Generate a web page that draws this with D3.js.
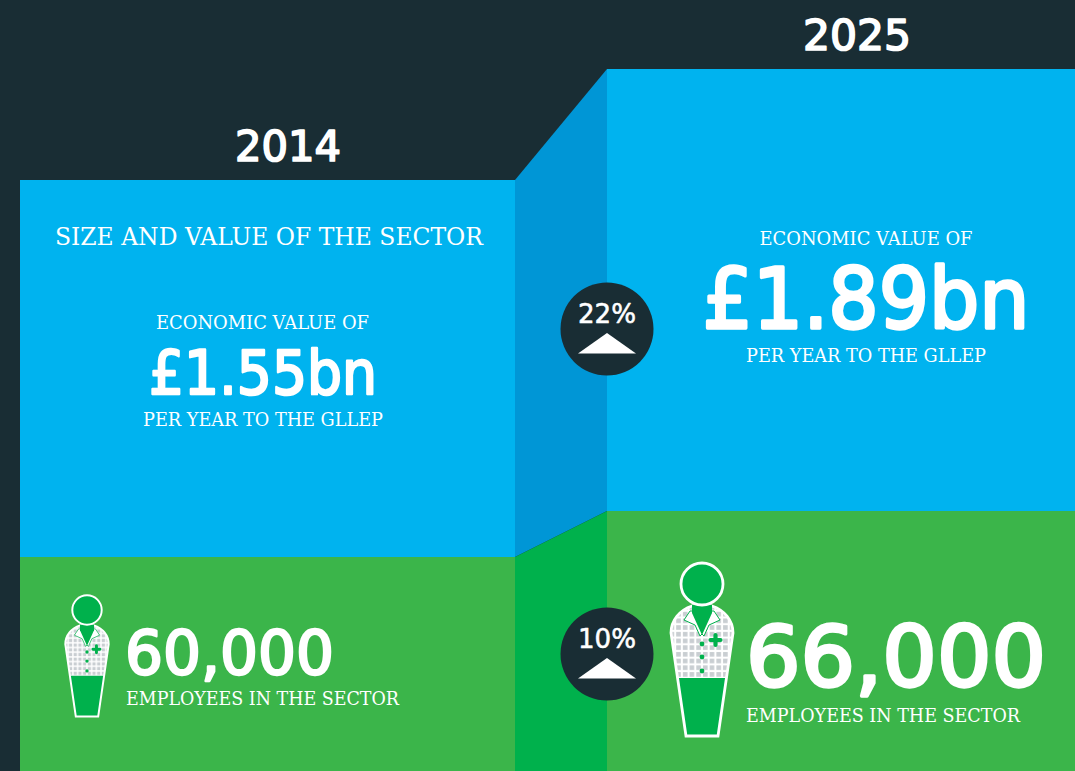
<!DOCTYPE html>
<html>
<head>
<meta charset="utf-8">
<script src="https://cdn.jsdelivr.net/npm/d3@7"></script>
<style>
  html, body { margin: 0; padding: 0; background: #192d34; overflow: hidden; }
  svg { display: block; }
  .slab { font-family: "DejaVu Serif", serif; fill: #fff; }
  .sans { font-family: "DejaVu Sans", sans-serif; fill: #fff; stroke: #fff; stroke-width: 0.04em; stroke-linejoin: round; }
</style>
</head>
<body>
<div id="wrapper"></div>
<script>
const years = ["2014", "2025"]
const economicValue = [1.55, 1.89]
const economicLabels = ["£1.55bn", "£1.89bn"]
const employees = [60000, 66000]
const employeeLabels = ["60,000", "66,000"]
const changes = ["22%", "10%"]
const sectorTitle = "SIZE AND VALUE OF THE SECTOR"
const valueHead = "ECONOMIC VALUE OF"
const valueFoot = "PER YEAR TO THE GLLEP"
const employeeFoot = "EMPLOYEES IN THE SECTOR"

function drawChart() {
  const dimensions = { width: 1075, height: 771 }

  const colors = {
    dark: "#192d34",
    blue: "#00b3ef",
    blueSide: "#0096d6",
    green: "#3bb54a",
    greenSide: "#00b14c",
    check: "#c9ced2",
  }

  const wrapper = d3.select("#wrapper")
    .append("svg")
      .attr("width", dimensions.width)
      .attr("height", dimensions.height)

  // scales: left edge of each column, and how high each value sits
  const xLeft = d3.scaleOrdinal().domain(years).range([20, 607])
  const xRight = d3.scaleOrdinal().domain(years).range([515, 1075])
  const yValue = d3.scaleLinear().domain(economicValue).range([180, 69])
  const yEmployees = d3.scaleLinear().domain(employees).range([557, 511])
  const iconScale = d3.scaleLinear().domain(employees).range([0.7, 1])

  const rows = years.map((year, i) => ({
    year,
    value: economicValue[i],
    valueLabel: economicLabels[i],
    staff: employees[i],
    staffLabel: employeeLabels[i],
  }))

  // column panels
  wrapper.selectAll(".blue")
      .data(rows)
    .join("rect")
      .attr("class", "blue")
      .attr("x", d => xLeft(d.year))
      .attr("y", d => yValue(d.value))
      .attr("width", d => xRight(d.year) - xLeft(d.year))
      .attr("height", d => yEmployees(d.staff) - yValue(d.value))
      .attr("fill", colors.blue)

  wrapper.selectAll(".green")
      .data(rows)
    .join("rect")
      .attr("class", "green")
      .attr("x", d => xLeft(d.year))
      .attr("y", d => yEmployees(d.staff))
      .attr("width", d => xRight(d.year) - xLeft(d.year))
      .attr("height", d => dimensions.height - yEmployees(d.staff))
      .attr("fill", colors.green)

  // the slanted bit between the two columns
  const [a, b] = rows
  const sideBlue = [
    [xRight(a.year), yValue(a.value)],
    [xLeft(b.year), yValue(b.value)],
    [xLeft(b.year), yEmployees(b.staff)],
    [xRight(a.year), yEmployees(a.staff)],
  ]
  const sideGreen = [
    [xRight(a.year), yEmployees(a.staff)],
    [xLeft(b.year), yEmployees(b.staff)],
    [xLeft(b.year), dimensions.height],
    [xRight(a.year), dimensions.height],
  ]
  wrapper.append("path").attr("d", d3.line()(sideBlue) + "Z").attr("fill", colors.blueSide)
  wrapper.append("path").attr("d", d3.line()(sideGreen) + "Z").attr("fill", colors.greenSide)

  // text helper
  function label(cls, txt, x, y, size, width, anchor = "middle") {
    return wrapper.append("text")
        .attr("class", cls)
        .attr("x", x)
        .attr("y", y)
        .attr("text-anchor", anchor)
        .attr("font-size", size)
        .attr("textLength", width)
        .attr("lengthAdjust", "spacingAndGlyphs")
        .text(txt)
  }

  // year headings
  label("sans", years[0], 288, 161, 43, 106)
  label("sans", years[1], 857, 50, 43, 108)

  // blue panel text
  label("slab", sectorTitle, 269, 245, 24, 428)
  label("slab", valueHead, 262.5, 329, 18, 213)
  label("sans", economicLabels[0], 263, 394, 61, 228)
  label("slab", valueFoot, 263, 426, 18, 240)
  label("slab", valueHead, 866, 245, 18, 213)
  label("sans", economicLabels[1], 866, 328, 84, 327)
  label("slab", valueFoot, 866, 362, 18, 240)

  // green panel text
  label("sans", employeeLabels[0], 125, 674, 60, 209, "start")
  label("slab", employeeFoot, 126, 705, 18, 273, "start")
  label("sans", employeeLabels[1], 746, 686, 84, 300, "start")
  label("slab", employeeFoot, 746, 722, 18, 274, "start")

  // check pattern for the uniform
  const defs = wrapper.append("defs")
  defs.append("pattern")
      .attr("id", "check")
      .attr("patternUnits", "userSpaceOnUse")
      .attr("width", 6.7)
      .attr("height", 6.7)
      .call(p => p.append("rect").attr("width", 6.7).attr("height", 6.7).attr("fill", "#fff"))
      .call(p => p.append("rect").attr("x", 1).attr("y", 1).attr("width", 4.6).attr("height", 4.6).attr("fill", colors.check))

  // person icon, drawn at the size of the bigger one around its head centre
  const bodyPath = "M-10,22 C-22,26 -31,36 -31,49 L-16,152 L16,152 L31,49 C31,36 22,26 10,22 Z"
  const lowerPath = "M-24.4,94 L-16,152 L16,152 L24.4,94 Z"
  const icons = wrapper.selectAll(".icon")
      .data([
        { staff: employees[0], x: 87, y: 610 },
        { staff: employees[1], x: 702, y: 584 },
      ])
    .join("g")
      .attr("class", "icon")
      .attr("transform", d => `translate(${d.x},${d.y}) scale(${iconScale(d.staff)})`)

  icons.append("path")
      .attr("d", bodyPath)
      .attr("fill", "url(#check)")
  icons.append("path")
      .attr("d", lowerPath)
      .attr("fill", colors.greenSide)
  icons.append("path")
      .attr("d", bodyPath)
      .attr("fill", "none")
      .attr("stroke", "#fff")
      .attr("stroke-width", 2.8)
  // collar
  icons.append("path")
      .attr("d", "M-12,27 L-18,36 L-7,41 L-2,52 L0,50 L2,52 L7,41 L18,36 L12,27 Z")
      .attr("fill", "#fff")
      .attr("stroke", colors.greenSide)
      .attr("stroke-width", 1)
  icons.append("path")
      .attr("d", "M-10,21 L10,21 L10,29 L0,51 L-10,29 Z")
      .attr("fill", colors.greenSide)
  // head
  icons.append("circle")
      .attr("r", 21)
      .attr("fill", colors.greenSide)
      .attr("stroke", "#fff")
      .attr("stroke-width", 2.8)
  // buttons
  icons.selectAll(".button")
      .data([60, 73, 87])
    .join("circle")
      .attr("class", "button")
      .attr("cy", d => d)
      .attr("r", 2.4)
      .attr("fill", colors.greenSide)
  // cross on the pocket
  icons.append("path")
      .attr("d", "M8.5,56 H18.5 M13.5,51 V61")
      .attr("stroke", colors.greenSide)
      .attr("stroke-width", 4.2)
      .attr("stroke-linecap", "round")

  // change badges
  const badges = wrapper.selectAll(".badge")
      .data(changes.map((c, i) => ({ c, y: [329, 654][i] })))
    .join("g")
      .attr("class", "badge")
      .attr("transform", d => `translate(${xLeft(years[1])},${d.y})`)

  badges.append("circle")
      .attr("r", 46.5)
      .attr("fill", colors.dark)
  badges.append("path")
      .attr("d", "M0,4 L29,24.5 L-29,24.5 Z")
      .attr("fill", "#fff")
  badges.append("text")
      .attr("class", "sans")
      .attr("y", -6)
      .attr("text-anchor", "middle")
      .attr("font-size", 27)
      .attr("textLength", 58)
      .attr("lengthAdjust", "spacingAndGlyphs")
      .style("stroke-width", "0.02em")
      .text(d => d.c)
}

drawChart()
</script>
</body>
</html>
